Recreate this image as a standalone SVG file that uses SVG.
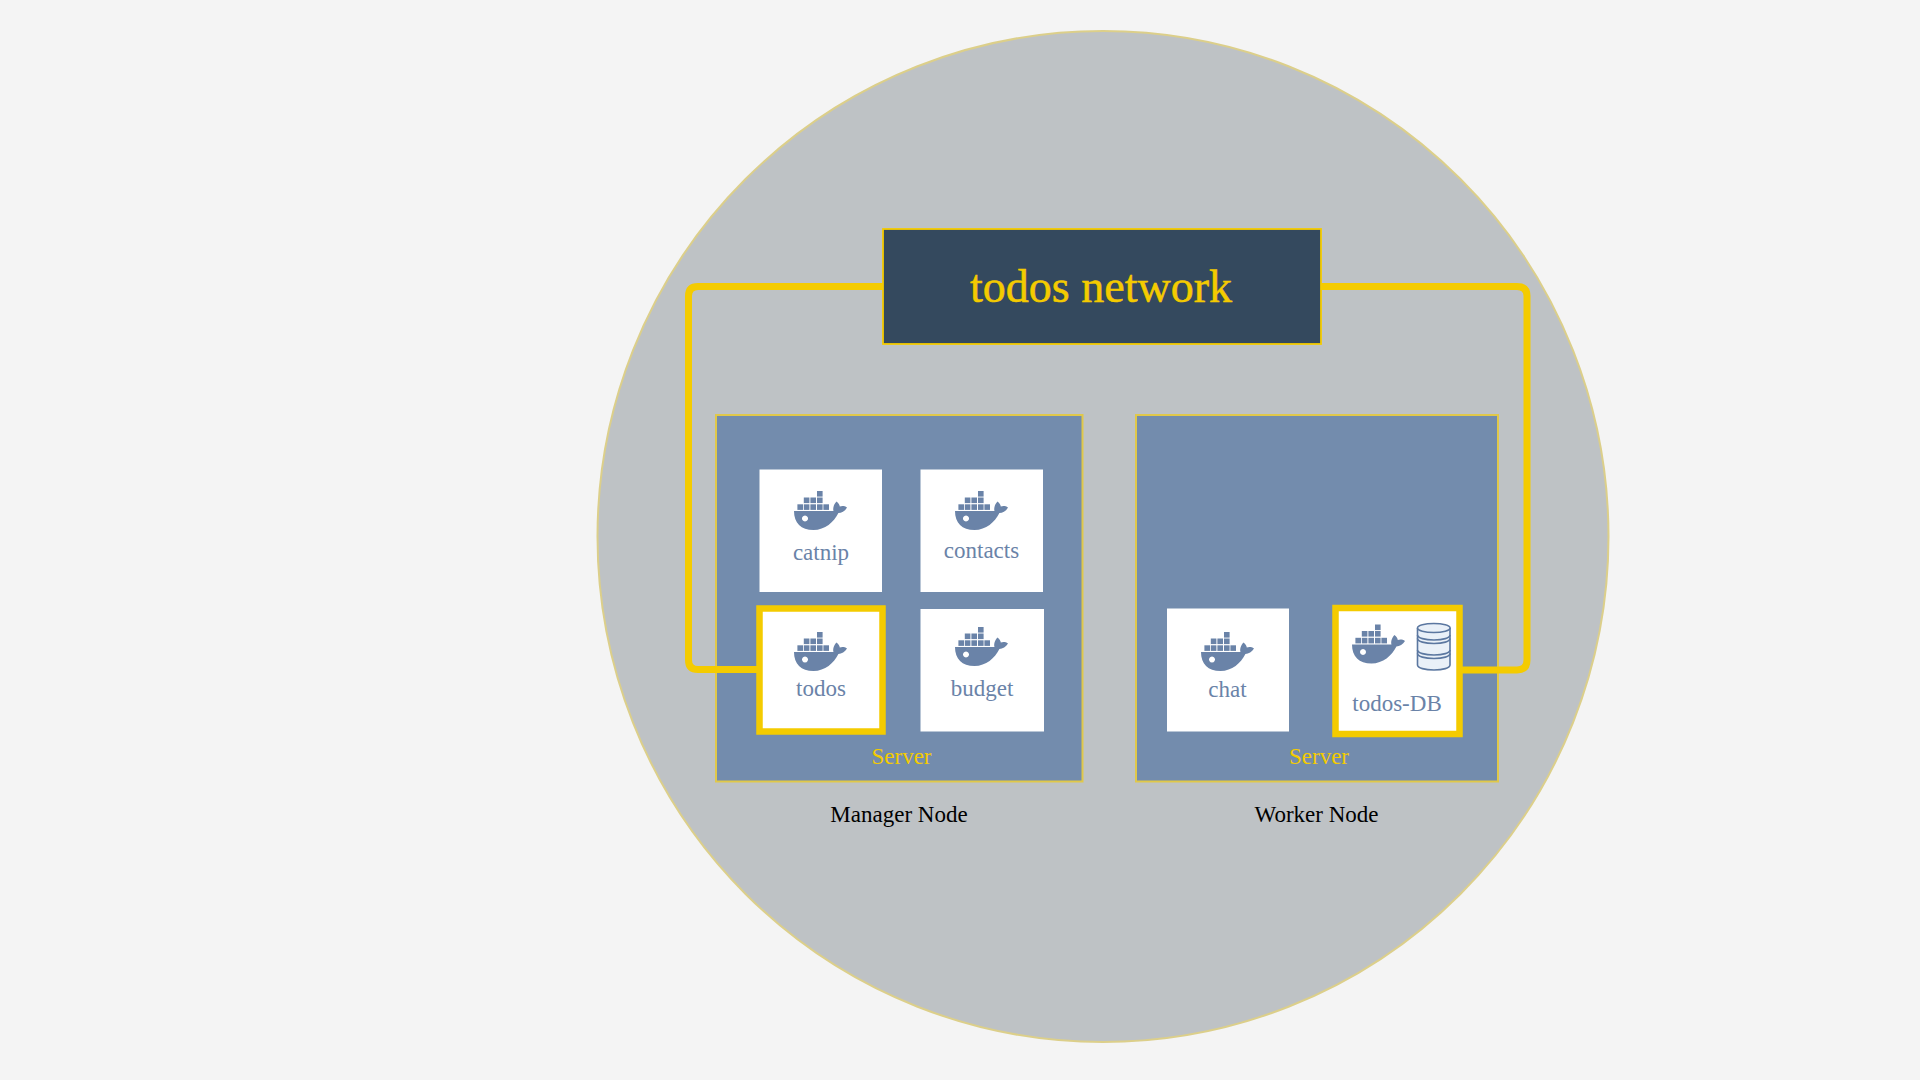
<svg xmlns="http://www.w3.org/2000/svg" xmlns:xlink="http://www.w3.org/1999/xlink" width="1920" height="1080" viewBox="0 0 1920 1080">
<style>
text{font-family:"Liberation Serif","Times New Roman",serif;text-anchor:middle}
.panel{fill:#738cad;stroke:#e0c84a;stroke-width:2}
.card{fill:#fff}
.hl{fill:#fff;stroke:#f4cb00;stroke-width:6.500}
.lbl{font-size:23px;fill:#6a83a8}
.srv{font-size:23px;fill:#f4cb00}
.cap{font-size:23px;fill:#000}
.conn{fill:none;stroke:#f4cb00;stroke-width:7}
.w{fill:#6a83a8}
.db{fill:#e9f0f8;stroke:#5b77a0;stroke-width:1.600}
.arc{fill:none;stroke:#5b77a0;stroke-width:1.600}
</style>
<defs>
<symbol id="whale" width="54" height="40" viewBox="0 0 54 40" overflow="visible">
<g class="w">
<rect x="23" y="0" width="5.600" height="5.600"/>
<rect x="9.800" y="6.500" width="5.600" height="5.600"/><rect x="16.400" y="6.500" width="5.600" height="5.600"/><rect x="23" y="6.500" width="5.600" height="5.600"/>
<rect x="3.400" y="13.300" width="5.600" height="5.600"/><rect x="9.800" y="13.300" width="5.600" height="5.600"/><rect x="16.400" y="13.300" width="5.600" height="5.600"/><rect x="23" y="13.300" width="5.600" height="5.600"/><rect x="29.400" y="13.300" width="5.600" height="5.600"/>
<path fill-rule="evenodd" d="M0 20H39.500C38.600 17.500 39.800 13 42.500 10.500C44.600 12.200 45.600 14 45.800 15.600C48 14.700 50.800 15 53 16.600C51 20.200 47.600 22 44.400 22C40 31 31 39 19.500 39C7 39 0 32 0 20ZM11 24.500a3 3 0 1 0 0.010 0Z"/>
</g>
</symbol>
</defs>
<rect width="1920" height="1080" fill="#f4f4f4"/>
<circle id="network-zone" cx="1103" cy="536.500" r="505.500" fill="#bec2c5" stroke="#dccf8a" stroke-width="2"/>
<g id="manager-panel"><rect class="panel" x="716" y="415" width="366.500" height="366.500"/></g>
<g id="worker-panel"><rect class="panel" x="1136" y="415" width="362" height="366.500"/></g>
<g id="connectors">
<path class="conn" d="M884 286.500H698Q688.500 286.500 688.500 296V660Q688.500 669.500 698 669.500H760"/>
<path class="conn" d="M1320 286.500H1517Q1527 286.500 1527 296V660Q1527 670 1517 670H1460"/>
</g>
<g id="todos-network">
<rect x="883" y="229" width="438" height="115" fill="#34495e" stroke="#f4cb00" stroke-width="1.800"/>
<text x="1101" y="301.500" font-size="46" fill="#f4cb00" stroke="#f4cb00" stroke-width="0.500">todos network</text>
</g>
<g id="catnip"><rect class="card" x="759.500" y="469.500" width="122.500" height="122.500"/><use xlink:href="#whale" href="#whale" x="794" y="491"/><text class="lbl" x="821" y="560">catnip</text></g>
<g id="contacts"><rect class="card" x="920.500" y="469.500" width="122.500" height="122.500"/><use xlink:href="#whale" href="#whale" x="955" y="491"/><text class="lbl" x="981.500" y="558">contacts</text></g>
<g id="todos"><rect class="hl" x="759.500" y="608.500" width="123" height="123"/><use xlink:href="#whale" href="#whale" x="794" y="632"/><text class="lbl" x="821" y="696">todos</text></g>
<g id="budget"><rect class="card" x="920.500" y="609" width="123.500" height="122.500"/><use xlink:href="#whale" href="#whale" x="955" y="627"/><text class="lbl" x="982" y="696">budget</text></g>
<g id="chat"><rect class="card" x="1167" y="608.500" width="122" height="123"/><use xlink:href="#whale" href="#whale" x="1201" y="632"/><text class="lbl" x="1227.500" y="697">chat</text></g>
<g id="todos-db"><rect class="hl" x="1335.500" y="608" width="124" height="126"/><use xlink:href="#whale" href="#whale" x="1352" y="624.500"/>
<g class="db"><path d="M1417.500 628V665C1417.500 668 1425 670 1434 670S1450 668 1450 665V628"/><ellipse cx="1433.800" cy="628" rx="16.300" ry="4.500"/></g>
<path class="arc" d="M1417.500 635C1417.500 638 1425 640 1434 640S1450 638 1450 635M1417.500 638.500C1417.500 641.500 1425 643.500 1434 643.500S1450 641.500 1450 638.500M1417.500 650C1417.500 653 1425 655 1434 655S1450 653 1450 650M1417.500 653.500C1417.500 656.500 1425 658.500 1434 658.500S1450 656.500 1450 653.500"/>
<text class="lbl" x="1397" y="711">todos-DB</text></g>
<g id="server-labels"><text class="srv" x="901.500" y="763.500">Server</text><text class="srv" x="1319" y="763.500">Server</text></g>
<g id="captions"><text class="cap" x="899" y="821.500">Manager Node</text><text class="cap" x="1316.500" y="821.500">Worker Node</text></g>
</svg>
